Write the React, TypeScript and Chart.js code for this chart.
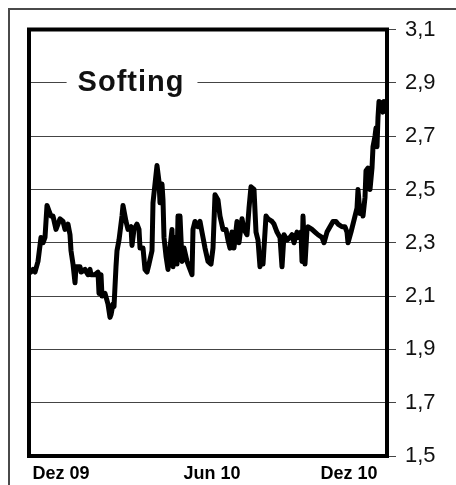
import React, { useEffect, useRef } from "react";
import { Chart, registerables } from "chart.js";

Chart.register(...registerables);

// Trading-day index (from start of series) and closing price
const days = [
  0, 2, 4, 7, 10, 12, 14, 16, 18, 20, 22, 25, 27, 29, 32, 34, 37, 39, 40, 42,
  44, 45, 49, 50, 54, 57, 59, 60, 64, 67, 68, 70, 71, 74, 77, 79, 80, 82, 83, 85,
  86, 88, 91, 92, 95, 97, 100, 101, 103, 106, 108, 109, 112, 114, 116, 118, 121, 122, 124, 126,
  128, 129, 131, 132, 133, 135, 137, 139, 141, 142, 144, 146, 147, 149, 151, 153, 156, 159, 161, 162,
  164, 166, 167, 169, 171, 174, 177, 180, 182, 184, 187, 189, 192, 195, 197, 199, 201, 203, 206, 208,
  211, 213, 216, 218, 220, 223, 225, 227, 229, 231, 232, 235, 237, 241, 243, 246, 249, 251, 253, 256,
  259, 261, 263, 266, 267, 270, 271, 272, 274, 276, 277, 281, 284, 287, 291, 293, 296, 299, 302, 305,
  307, 311, 314, 316, 317, 320, 322, 324, 326, 327, 329, 331, 332, 334, 335, 337, 339, 341, 342, 344,
  345, 346, 347, 348, 351, 352, 353,
];
const prices = [
  2.19, 2.2, 2.19, 2.23, 2.32, 2.3, 2.32, 2.44, 2.42, 2.4, 2.4, 2.35, 2.37, 2.39, 2.38, 2.35, 2.37, 2.33, 2.27, 2.22,
  2.15, 2.21, 2.21, 2.19, 2.2, 2.18, 2.2, 2.18, 2.18, 2.19, 2.11, 2.18, 2.1, 2.11, 2.07, 2.02, 2.03, 2.07, 2.06, 2.21,
  2.27, 2.31, 2.4, 2.44, 2.38, 2.35, 2.36, 2.29, 2.35, 2.37, 2.35, 2.28, 2.28, 2.2, 2.19, 2.22, 2.27, 2.45, 2.52, 2.59,
  2.53, 2.45, 2.52, 2.46, 2.32, 2.25, 2.2, 2.28, 2.35, 2.21, 2.32, 2.22, 2.4, 2.4, 2.23, 2.28, 2.23, 2.2, 2.18, 2.35,
  2.38, 2.37, 2.36, 2.38, 2.34, 2.28, 2.23, 2.22, 2.28, 2.48, 2.46, 2.4, 2.35, 2.35, 2.31, 2.28, 2.34, 2.28, 2.38, 2.3,
  2.39, 2.35, 2.33, 2.43, 2.51, 2.5, 2.34, 2.31, 2.21, 2.26, 2.22, 2.4, 2.39, 2.38, 2.37, 2.34, 2.32, 2.21, 2.33, 2.31,
  2.32, 2.33, 2.3, 2.34, 2.32, 2.34, 2.23, 2.4, 2.22, 2.35, 2.36, 2.35, 2.34, 2.33, 2.32, 2.3, 2.34, 2.36, 2.38, 2.38,
  2.37, 2.36, 2.36, 2.34, 2.3, 2.34, 2.37, 2.4, 2.43, 2.5, 2.41, 2.43, 2.4, 2.47, 2.57, 2.58, 2.5, 2.58, 2.66, 2.7,
  2.73, 2.66, 2.77, 2.83, 2.82, 2.79, 2.83,
];

const xTickDays = [30, 181, 318];
const xTickLabels = ["Dez 09", "Jun 10", "Dez 10"];
const yMin = 1.5;
const yMax = 3.1;
const yStep = 0.2;
const titleText = "Softing";
const titleLevel = 2.9;

export default function App() {
  const ref = useRef<HTMLCanvasElement>(null);

  useEffect(() => {
    const canvas = ref.current;
    if (!canvas) return;

    const decor = {
      id: "decor",
      beforeDatasetsDraw(chart: any) {
        const { ctx, chartArea, scales } = chart;
        const y = scales.y.getPixelForValue(titleLevel);
        const cx = chartArea.left + (chartArea.right - chartArea.left) * 0.285;
        ctx.save();
        ctx.font = 'bold 29px "Liberation Sans", Arial, sans-serif';
        try {
          (ctx as any).letterSpacing = "1px";
        } catch (e) {}
        const w = ctx.measureText(titleText).width;
        ctx.fillStyle = "#fff";
        ctx.fillRect(cx - w / 2 - 11, y - 14, w + 24, 28);
        ctx.fillStyle = "#111";
        ctx.textAlign = "center";
        ctx.textBaseline = "alphabetic";
        ctx.fillText(titleText, cx, y + 8);
        ctx.restore();
      },
      afterDraw(chart: any) {
        const { ctx, chartArea, width, height } = chart;
        ctx.save();
        ctx.strokeStyle = "#4a4a4a";
        ctx.lineWidth = 2;
        ctx.beginPath();
        ctx.moveTo(9, height);
        ctx.lineTo(9, 9);
        ctx.lineTo(width, 9);
        ctx.stroke();
        ctx.strokeStyle = "#000";
        ctx.lineWidth = 4;
        ctx.strokeRect(
          chartArea.left,
          chartArea.top,
          chartArea.right - chartArea.left,
          chartArea.bottom - chartArea.top
        );
        ctx.restore();
      },
    };

    const chart = new Chart(canvas, {
      type: "line",
      data: {
        datasets: [
          {
            data: days.map((d, i) => ({ x: d, y: prices[i] })),
            borderColor: "#000",
            borderWidth: 5,
            pointRadius: 0,
            tension: 0,
            borderJoinStyle: "round",
            borderCapStyle: "round",
          },
        ],
      },
      options: {
        animation: false,
        responsive: true,
        maintainAspectRatio: false,
        layout: { padding: { left: 29, top: 29.5, right: 0, bottom: 0 } },
        plugins: { legend: { display: false }, tooltip: { enabled: false } },
        scales: {
          x: {
            type: "linear",
            min: -2,
            max: 356,
            afterFit: (s: any) => {
              s.height = 29;
            },
            afterBuildTicks: (s: any) => {
              s.ticks = xTickDays.map((v) => ({ value: v }));
            },
            grid: { display: false },
            border: { display: false },
            ticks: {
              autoSkip: false,
              maxRotation: 0,
              padding: -1,
              color: "#000",
              font: { family: '"Liberation Sans", Arial, sans-serif', size: 18, weight: "bold" },
              callback: (_v: any, i: number) => xTickLabels[i],
            },
          },
          y: {
            position: "right",
            min: yMin,
            max: yMax,
            afterFit: (s: any) => {
              s.width = 69;
            },
            grid: { color: "#444", lineWidth: 1, tickLength: 9 },
            border: { display: false },
            ticks: {
              stepSize: yStep,
              padding: 9,
              color: "#111",
              font: { family: '"Liberation Sans", Arial, sans-serif', size: 22 },
              callback: (v: any) => Number(v).toFixed(1).replace(".", ","),
            },
          },
        },
      },
      plugins: [decor],
    } as any);

    return () => chart.destroy();
  }, []);

  return (
    <div style={{ position: "fixed", left: 0, top: 0, width: 456, height: 485 }}>
      <canvas ref={ref} />
    </div>
  );
}
